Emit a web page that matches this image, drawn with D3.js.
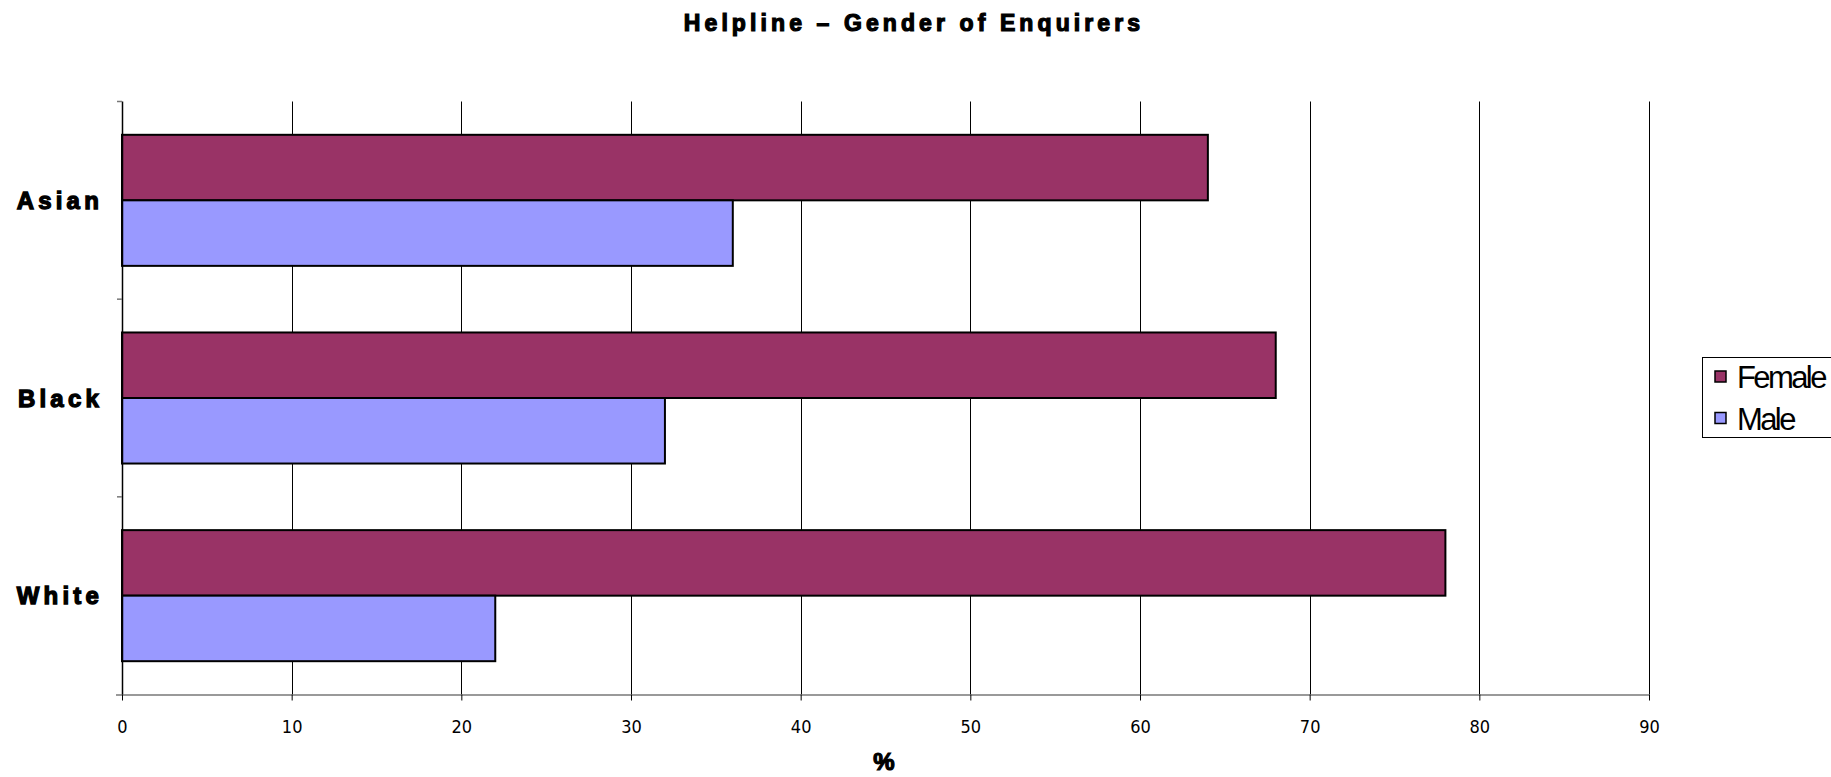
<!DOCTYPE html>
<html>
<head>
<meta charset="utf-8">
<script src="https://cdn.jsdelivr.net/npm/d3@7"></script>
<style>
  body { margin: 0; background: #fff; }
  svg { display: block; }
</style>
</head>
<body>
<svg id="chart" width="1831" height="777"></svg>
<script>
const categories = ["Asian", "Black", "White"];
const seriesNames = ["Female", "Male"];
const femaleValues = [64, 68, 78];
const maleValues = [36, 32, 22];
const xTicks = [0, 10, 20, 30, 40, 50, 60, 70, 80, 90];
const colors = ["#993366", "#9999FF"];
const titleText = "Helpline \u2013 Gender of Enquirers";
const xAxisTitle = "%";

(function () {
const svg = d3.select("#chart");
const pLeft = 122, pRight = 1649, pTop = 101.5, pBottom = 694.5;

const x = d3.scaleLinear().domain([0, 90]).range([pLeft, pRight]);
const y = d3.scaleBand().domain(categories).range([pTop, pBottom]).paddingInner(0.337).paddingOuter(0.1685);
const ySub = d3.scaleBand().domain(seriesNames).range([0, y.bandwidth()]);

// gridlines
svg.append("g").selectAll("line").data(xTicks.slice(1)).join("line")
  .attr("x1", d => Math.round(x(d)) + 0.5).attr("x2", d => Math.round(x(d)) + 0.5)
  .attr("y1", pTop).attr("y2", pBottom)
  .attr("stroke", "#000").attr("stroke-width", 1);

// bars
const data = [];
categories.forEach((c, i) => {
  data.push({cat: c, s: "Female", v: femaleValues[i], color: colors[0]});
  data.push({cat: c, s: "Male", v: maleValues[i], color: colors[1]});
});
svg.append("g").selectAll("rect").data(data).join("rect")
  .attr("x", x(0))
  .attr("y", d => y(d.cat) + ySub(d.s))
  .attr("width", d => x(d.v) - x(0))
  .attr("height", ySub.bandwidth())
  .attr("fill", d => d.color)
  .attr("stroke", "#000").attr("stroke-width", 2);

// x axis
const xAxis = d3.axisBottom(x).tickValues(xTicks).tickSize(6).tickPadding(20);
const gx = svg.append("g").attr("transform", `translate(0,${pBottom})`).call(xAxis);
gx.select(".domain").attr("d", `M${pLeft - 6},0.5H${pRight}`).attr("stroke", "#777").attr("stroke-width", 1.5);
gx.selectAll(".tick line").attr("stroke", "#000");
gx.selectAll(".tick text")
  .attr("font-family", "'DejaVu Sans Condensed', 'DejaVu Sans', sans-serif")
  .attr("font-size", 18).attr("fill", "#000");

// y axis
svg.append("line").attr("x1", pLeft + 0.5).attr("x2", pLeft + 0.5).attr("y1", pTop).attr("y2", pBottom)
  .attr("stroke", "#000").attr("stroke-width", 1.5);
const bounds = categories.map(c => y(c) - y.step() * y.paddingInner() / 2);
bounds[0] = pTop;
svg.append("g").selectAll("line").data(bounds).join("line")
  .attr("x1", pLeft - 5).attr("x2", pLeft).attr("y1", d => d).attr("y2", d => d)
  .attr("stroke", "#777").attr("stroke-width", 1.5);

svg.append("g").selectAll("text").data(categories).join("text")
  .attr("x", 103)
  .attr("y", d => y(d) + y.bandwidth() / 2)
  .attr("dy", "0.36em")
  .attr("text-anchor", "end")
  .attr("font-family", "'Liberation Sans', Arial, sans-serif")
  .attr("font-weight", "bold")
  .attr("font-size", 24)
  .attr("letter-spacing", 4.2)
  .attr("stroke", "#000").attr("stroke-width", 1.3)
  .attr("fill", "#000")
  .text(d => d);

// title
svg.append("text")
  .attr("x", 914).attr("y", 31)
  .attr("text-anchor", "middle")
  .attr("font-family", "'Liberation Sans', Arial, sans-serif")
  .attr("font-weight", "bold").attr("font-size", 23)
  .attr("letter-spacing", 4.1)
  .attr("stroke", "#000").attr("stroke-width", 1.2)
  .text(titleText);

// x axis title
svg.append("text")
  .attr("x", 884).attr("y", 770)
  .attr("text-anchor", "middle")
  .attr("font-family", "'Liberation Sans', Arial, sans-serif")
  .attr("font-weight", "bold").attr("font-size", 24)
  .attr("stroke", "#000").attr("stroke-width", 1.2)
  .text(xAxisTitle);

// legend
const lg = svg.append("g").attr("transform", "translate(1702,357)");
lg.append("rect").attr("x", 0.5).attr("y", 0.5).attr("width", 140).attr("height", 80)
  .attr("fill", "#fff").attr("stroke", "#000").attr("stroke-width", 1);
const items = lg.selectAll("g.item").data(seriesNames).join("g").attr("class", "item")
  .attr("transform", (d, i) => `translate(0,${20 + i * 41.5})`);
items.append("rect").attr("x", 13).attr("y", -6).attr("width", 11).attr("height", 11)
  .attr("fill", (d, i) => colors[i]).attr("stroke", "#000").attr("stroke-width", 1.5);
items.append("text").attr("x", 35).attr("y", 0).attr("dy", "0.36em")
  .attr("font-family", "'Liberation Sans', Arial, sans-serif")
  .attr("font-size", 31).attr("letter-spacing", -2.6)
  .attr("fill", "#000")
  .text(d => d);
})();
</script>
</body>
</html>
